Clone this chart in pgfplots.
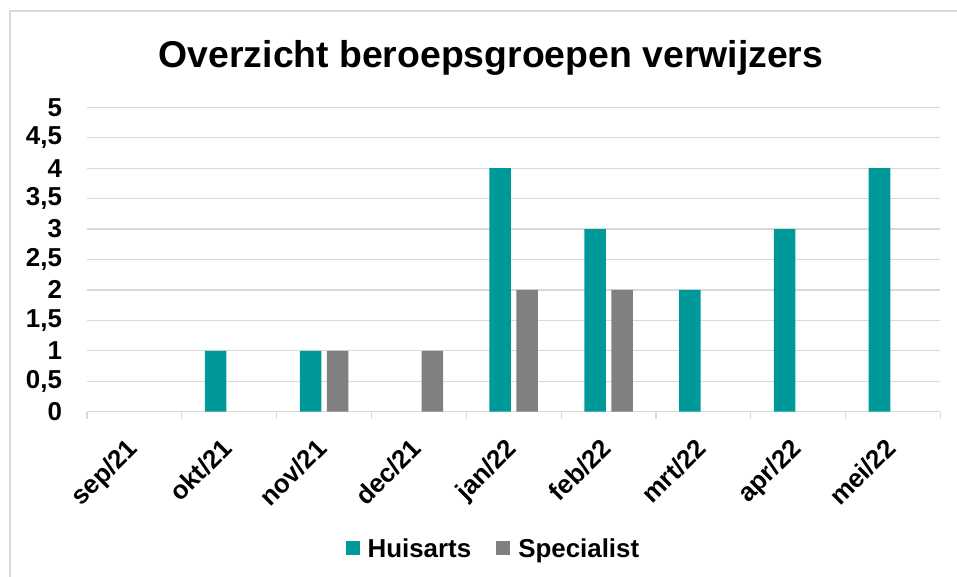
\documentclass[border=0pt]{standalone}
\usepackage{fontspec}
\setmainfont{Liberation Sans}
\usepackage{pgfplots}
\pgfplotsset{compat=1.18}
\definecolor{huis}{RGB}{0,153,153}
\definecolor{spec}{RGB}{128,128,128}
\definecolor{gridc}{RGB}{217,217,217}
\begin{document}
\begin{tikzpicture}[x=1bp,y=1bp]
\path[use as bounding box] (0,0) rectangle (957,577);
\draw[gridc, line width=1.5bp] (10,-5) -- (10,566) -- (965,566);
\node[anchor=base, font=\fontsize{37.5}{44}\selectfont\bfseries, inner sep=0pt] at (491,509.5) {Overzicht beroepsgroepen verwijzers};
\begin{axis}[
  at={(87bp,165.3bp)}, anchor=south west,
  scale only axis,
  width=853.4bp, height=304.4bp,
  xmin=-0.5, xmax=8.5, ymin=0, ymax=5,
  ybar=5.5bp, bar width=21.5bp,
  xtick={0,...,8},
  xticklabels={sep/21,okt/21,nov/21,dec/21,jan/22,feb/22,mrt/22,apr/22,mei/22},
  minor xtick={-0.5,0.5,...,8.5},
  ytick={0,0.5,...,5},
  tick pos=left,
  tick align=outside,
  major tick length=0pt,
  minor tick length=7bp,
  minor x tick style={draw=gridc, line width=1.2bp},
  major tick style={draw=none},
  ymajorgrids,
  grid style={draw=gridc, line width=1.2bp},
  axis line style={draw=none},
  ticklabel style={font=\fontsize{26}{30}\selectfont\bfseries, inner sep=0pt, outer sep=0pt},
  /pgf/number format/assume math mode=true,
  /pgf/number format/use comma,
  /pgf/number format/fixed,
  yticklabel style={anchor=east, xshift=-25bp},
  xticklabel style={xshift=-9bp, yshift=-25bp, rotate=45, anchor=north east},
  restrict y to domain=0.01:10,
  legend columns=2,
  legend style={draw=none, fill=none, at={(0.4768,-0.451)}, anchor=center,
    font=\fontsize{26}{30}\selectfont\bfseries, inner sep=0pt,
    nodes={inner sep=3bp},
    /tikz/every even column/.append style={column sep=22bp}},
]
\addplot[fill=huis, draw=none,
  legend image code/.code={\fill[huis] (0bp,-6bp) rectangle (14bp,8bp); \path (19bp,0bp);}]
  coordinates {(0,0) (1,1) (2,1) (3,0) (4,4) (5,3) (6,2) (7,3) (8,4)};
\addlegendentry{Huisarts}
\addplot[fill=spec, draw=none,
  legend image code/.code={\fill[spec] (0bp,-6bp) rectangle (14bp,8bp); \path (19bp,0bp);}]
  coordinates {(0,0) (1,0) (2,1) (3,1) (4,2) (5,2) (6,0) (7,0) (8,0)};
\addlegendentry{Specialist}
\end{axis}
\end{tikzpicture}
\end{document}
